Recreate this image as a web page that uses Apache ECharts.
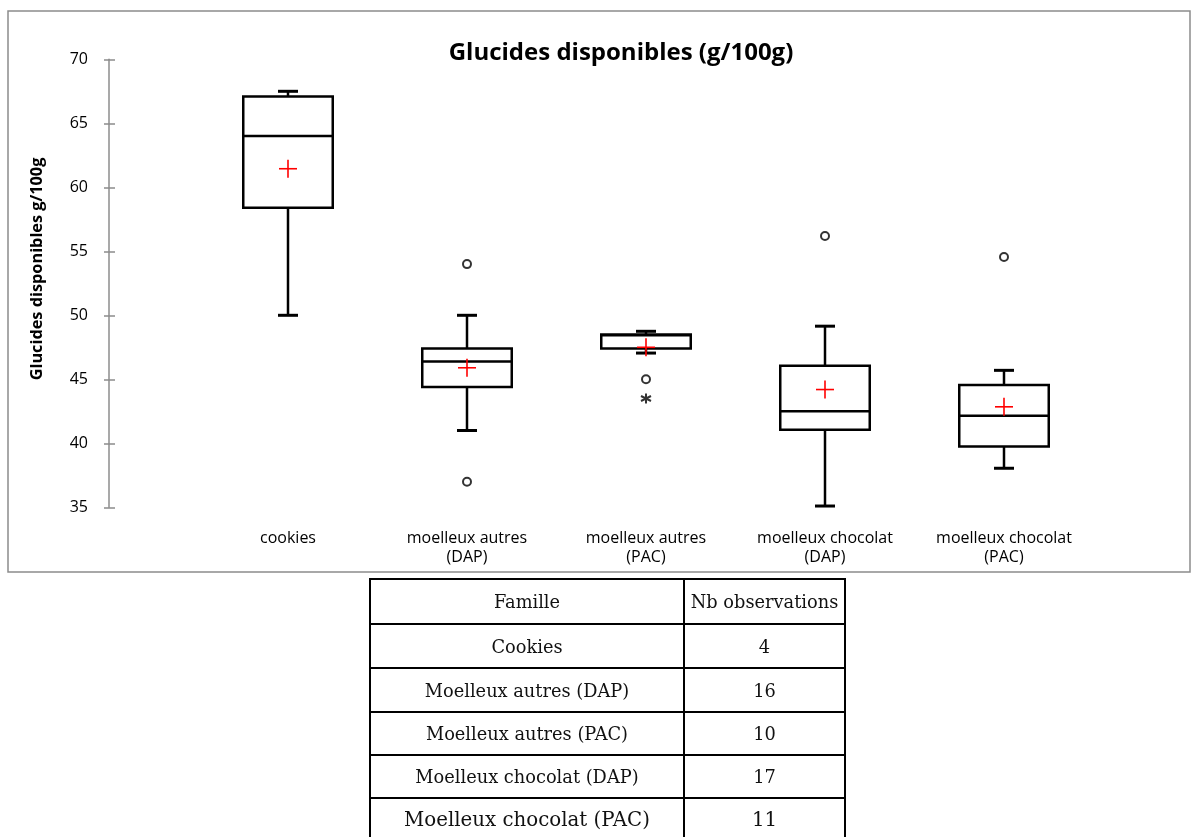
<!DOCTYPE html>
<html>
<head>
<meta charset="utf-8">
<script src="https://cdn.jsdelivr.net/npm/echarts@6/dist/echarts.min.js"></script>
<style>
  html, body { margin: 0; padding: 0; background: #fff; }
  #chart { position: absolute; left: 0; top: 0; width: 1195px; height: 837px; }
  #tbl { position: absolute; left: 369px; top: 578px; border-collapse: collapse;
         font-family: "DejaVu Serif", "Liberation Serif", serif; color: #111; }
  #tbl td { border: 2px solid #000; text-align: center; padding: 0; font-size: 17.8px; }
  #tbl td.c1 { width: 312px; }
  #tbl td.c2 { width: 159px; }
  #tbl tr.last td { font-size: 19.8px; }
</style>
</head>
<body>
<div id="chart"></div>
<table id="tbl"></table>
<script>
// ---- data ----
const categories = ['cookies', 'moelleux autres\n(DAP)', 'moelleux autres\n(PAC)', 'moelleux chocolat\n(DAP)', 'moelleux chocolat\n(PAC)'];
const whiskerLow  = [50.0, 41.0, 47.05, 35.1, 38.05];
const q1          = [58.4, 44.4, 47.4, 41.05, 39.75];
const median      = [64.0, 46.4, 48.45, 42.5, 42.15];
const q3          = [67.1, 47.4, 48.5, 46.05, 44.55];
const whiskerHigh = [67.5, 50.0, 48.75, 49.15, 45.7];
const means       = [61.45, 45.9, 47.5, 44.2, 42.85];
const outliers    = [[1, 54.0], [1, 37.0], [2, 45.0], [3, 56.2], [4, 54.55]];
const extremes    = [[2, 43.5]];
const yTicks = { min: 35, max: 70, interval: 5 };
const yAxisTitle = 'Glucides disponibles g/100g';
const chartTitle = 'Glucides disponibles (g/100g)';
const tableHeader = ['Famille', 'Nb observations'];
const tableFamilies = ['Cookies', 'Moelleux autres (DAP)', 'Moelleux autres (PAC)', 'Moelleux chocolat (DAP)', 'Moelleux chocolat (PAC)'];
const tableCounts = [4, 16, 10, 17, 11];

// ---- table ----
const rowHeights = [45, 44, 44, 43, 43, 42];
(function buildTable() {
  const t = document.getElementById('tbl');
  const rows = [tableHeader].concat(tableFamilies.map((f, i) => [f, String(tableCounts[i])]));
  rows.forEach((r, i) => {
    const tr = document.createElement('tr');
    if (i === rows.length - 1) tr.className = 'last';
    tr.style.height = rowHeights[i] + 'px';
    r.forEach((txt, j) => {
      const td = document.createElement('td');
      td.className = j === 0 ? 'c1' : 'c2';
      td.textContent = txt;
      tr.appendChild(td);
    });
    t.appendChild(tr);
  });
})();

// ---- chart ----
const boxData = categories.map((c, i) => [i, whiskerLow[i], q1[i], median[i], q3[i], whiskerHigh[i], means[i]]);
const chart = echarts.init(document.getElementById('chart'), null, { renderer: 'canvas' });
const FONT = '"Open Sans", "Liberation Sans", sans-serif';
const GRID_LEFT = 198.5;
const AXIS_X = 109;

function renderBox(params, api) {
  const idx = api.value(0);
  const pLow = api.coord([idx, api.value(1)]);
  const pQ1 = api.coord([idx, api.value(2)]);
  const pMed = api.coord([idx, api.value(3)]);
  const pQ3 = api.coord([idx, api.value(4)]);
  const pHigh = api.coord([idx, api.value(5)]);
  const pMean = api.coord([idx, api.value(6)]);
  const band = api.size([1, 0])[0];
  const half = band * 0.25;
  const cap = 10;
  const x = pQ1[0];
  const ls = { stroke: '#000', lineWidth: 2.5, fill: null };
  const children = [
    { type: 'line', shape: { x1: x, y1: pQ3[1], x2: x, y2: pHigh[1] }, style: ls },
    { type: 'line', shape: { x1: x, y1: pQ1[1], x2: x, y2: pLow[1] }, style: ls },
    { type: 'line', shape: { x1: x - cap, y1: pHigh[1], x2: x + cap, y2: pHigh[1] }, style: { stroke: '#000', lineWidth: 3 } },
    { type: 'line', shape: { x1: x - cap, y1: pLow[1], x2: x + cap, y2: pLow[1] }, style: { stroke: '#000', lineWidth: 3 } },
    { type: 'rect', shape: { x: x - half, y: pQ3[1], width: half * 2, height: pQ1[1] - pQ3[1] }, style: { stroke: '#000', lineWidth: 2.5, fill: '#fff' } },
    { type: 'line', shape: { x1: x - half, y1: pMed[1], x2: x + half, y2: pMed[1] }, style: ls },
    { type: 'line', shape: { x1: pMean[0] - 9, y1: pMean[1], x2: pMean[0] + 9, y2: pMean[1] }, style: { stroke: '#ff0000', lineWidth: 1.6 } },
    { type: 'line', shape: { x1: pMean[0], y1: pMean[1] - 9, x2: pMean[0], y2: pMean[1] + 9 }, style: { stroke: '#ff0000', lineWidth: 1.6 } }
  ];
  return { type: 'group', children: children };
}

const option = {
  backgroundColor: '#fff',
  animation: false,
  title: {
    text: chartTitle,
    left: 616, top: 36, textAlign: 'center',
    textStyle: { fontFamily: FONT, fontWeight: 'bold', fontSize: 24, color: '#000' }
  },
  graphic: [{
    type: 'rect', shape: { x: 8, y: 11, width: 1182, height: 561 },
    style: { fill: null, stroke: '#8c8c8c', lineWidth: 1.5 }, silent: true, z: -1
  }, {
    type: 'text', x: 37, y: 269, rotation: Math.PI / 2,
    style: { text: yAxisTitle, fontFamily: FONT, fontWeight: 'bold', fontSize: 16.3, fill: '#000',
             align: 'center', verticalAlign: 'middle' },
    silent: true
  }],
  grid: { left: GRID_LEFT, right: 101.5, top: 59.3, bottom: 329.7, containLabel: false },
  xAxis: {
    type: 'category', data: categories, boundaryGap: true,
    axisLine: { show: false }, axisTick: { show: false }, splitLine: { show: false },
    axisLabel: { fontFamily: FONT, fontSize: 16, color: '#000', margin: 21, lineHeight: 19.5, interval: 0 }
  },
  yAxis: [{
    type: 'value', min: yTicks.min, max: yTicks.max, interval: yTicks.interval,
    offset: GRID_LEFT - AXIS_X,
    axisLine: { show: true, lineStyle: { color: '#8c8c8c', width: 1.5 } },
    axisTick: { show: true, inside: false, length: 5, lineStyle: { color: '#8c8c8c', width: 1.5 } },
    axisLabel: { fontFamily: FONT, fontSize: 16, color: '#000', margin: 21 },
    splitLine: { show: false }
  }, {
    type: 'value', min: yTicks.min, max: yTicks.max, interval: yTicks.interval,
    position: 'left', offset: GRID_LEFT - AXIS_X,
    axisLine: { show: false },
    axisTick: { show: true, inside: true, length: 6, lineStyle: { color: '#8c8c8c', width: 1.5 } },
    axisLabel: { show: false }, splitLine: { show: false }
  }],
  series: [{
    type: 'custom', renderItem: renderBox, data: boxData,
    encode: { x: 0, y: [1, 2, 3, 4, 5, 6] }, z: 2
  }, {
    type: 'scatter', data: outliers, symbol: 'circle', symbolSize: 8,
    itemStyle: { color: '#fff', borderColor: '#000', borderWidth: 2 }, z: 3
  }, {
    type: 'scatter', data: extremes,
    symbol: 'path://M0,-10 L0,10 M-8.7,-5 L8.7,5 M-8.7,5 L8.7,-5',
    symbolSize: 10,
    itemStyle: { color: 'none', borderColor: '#000', borderWidth: 2 }, z: 3
  }]
};
chart.setOption(option);
</script>
</body>
</html>
